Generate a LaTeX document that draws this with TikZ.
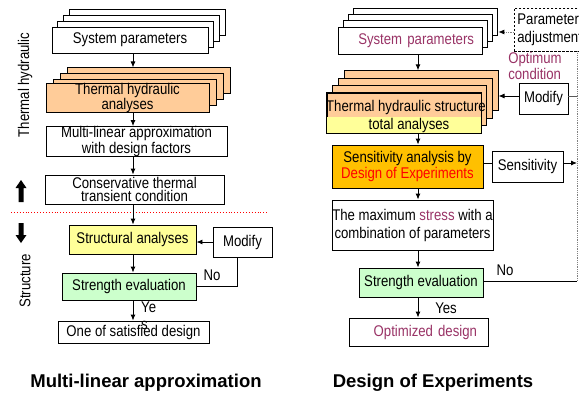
\documentclass[tikz,border=0pt]{standalone}
\usepackage{fontspec}
\setmainfont{Liberation Sans}[FakeStretch=0.85]
\newfontfamily\titlefont{Liberation Sans}
\usetikzlibrary{arrows.meta,calc}
\definecolor{thor}{HTML}{FFCC99}
\definecolor{ylw}{HTML}{FFFF99}
\definecolor{grn}{HTML}{CCFFCC}
\definecolor{gold}{HTML}{FFC000}
\definecolor{mag}{HTML}{993366}
\newcommand{\bodyf}{\fontsize{15.5}{13}\selectfont}
\begin{document}
\begin{tikzpicture}[x=1pt,y=-1pt,
  box/.style={draw, line width=0.9pt, inner sep=0pt, align=center, font=\bodyf, fill=white},
  arr/.style={-{Latex[length=6pt,width=5pt]}, line width=0.9pt},
  lbl/.style={inner sep=0pt, font=\bodyf},
  ttl/.style={inner sep=0pt, font=\titlefont\bfseries\fontsize{18.5}{20}\selectfont}]
\clip (0,0) rectangle (579,396);
\useasboundingbox (0,0) rectangle (579,396);
\fill[white] (0,0) rectangle (579,396);
% ---------------- left ----------------
\node[box, minimum width=156, minimum height=26] (lsp3) at (147.1,22) {};
\node[box, minimum width=156, minimum height=26] (lsp2) at (141.4,28) {};
\node[box, minimum width=156, minimum height=26] (lsp1) at (135.7,34) {};
\node[box, minimum width=156, minimum height=26] (lsp) at (130,40) {System parameters};
\node[box, fill=thor, minimum width=163, minimum height=26] (lth3) at (149.4,80.9) {};
\node[box, fill=thor, minimum width=163, minimum height=26] (lth2) at (142.1,86.6) {};
\node[box, fill=thor, minimum width=163, minimum height=26] (lth1) at (134.8,92.3) {};
\node[box, fill=thor, minimum width=163, minimum height=26, font=\fontsize{15.5}{11}\selectfont] (lth) at (127.5,98) {Thermal hydraulic\\analyses};
\node[box, minimum width=181, minimum height=29] (lml) at (136.5,141.5) {Multi-linear approximation\\with design factors};
\node[box, minimum width=179, minimum height=29] (lcons) at (134.5,189.5) {Conservative thermal\\transient condition};
\draw[red, dotted, line width=0.9pt] (11,212) -- (267,212);
\node[box, fill=ylw, minimum width=127, minimum height=29] (lstruct) at (132.5,239.5) {Structural analyses};
\node[box, minimum width=59, minimum height=30] (lmod) at (242.5,242) {Modify};
\node[box, fill=grn, minimum width=134, minimum height=27] (lstr) at (129,286.5) {Strength evaluation};
\node[box, minimum width=151, minimum height=22] (lone) at (133.5,332) {One of satisfied design};
\coordinate (lax) at (133,0);
\draw[arr] (lsp.south -| lax) -- (lth3.north -| lax);
\draw[arr] (lth.south -| lax) -- (lml.north -| lax);
\draw[arr] (lml.south -| lax) -- (lcons.north -| lax);
\draw[arr] (lcons.south -| lax) -- (lstruct.north -| lax);
\draw[arr] (lstruct.south -| lax) -- (lstr.north -| lax);
\draw[arr] (lstr.south -| lax) -- (lone.north -| lax);
\draw[arr] (lmod.west) -- (lmod.west -| lstruct.east);
\coordinate (lnx) at (237,0);
\draw[line width=0.9pt] (lmod.south -| lnx) |- (lstr.east);
\node[lbl] (lno) at (212,275) {No};
\node[lbl, align=left, anchor=north west, font=\fontsize{15.5}{17}\selectfont] (lyes) at (141,302) {Ye\\s};
\node[lbl, rotate=90] (lthl) at (25,85) {Thermal hydraulic};
\node[lbl, rotate=90] (lstl) at (25,281) {Structure};
\fill (21,180) -- (26.5,188) -- (23.5,188) -- (23.5,202) -- (18.5,202) -- (18.5,188) -- (15.5,188) -- cycle;
\fill (21,243) -- (26.5,235) -- (23.5,235) -- (23.5,223) -- (18.5,223) -- (18.5,235) -- (15.5,235) -- cycle;
\node[ttl] (t1) at (146,383) {Multi-linear approximation};
% ---------------- right ----------------
\node[box, minimum width=144, minimum height=27] (rsp3) at (425.9,21.6) {};
\node[box, minimum width=144, minimum height=27] (rsp2) at (420.6,27.9) {};
\node[box, minimum width=144, minimum height=27] (rsp1) at (415.3,34.2) {};
\node[box, minimum width=144, minimum height=27, text width=128, align=right, text=mag] (rsp) at (410,40.5) {System parameters};
\node[draw, dashed, dash pattern=on 2.5pt off 1.5pt, line width=0.8pt, anchor=west, minimum height=43, inner xsep=3pt, inner ysep=0pt, text width=66, align=left, font=\fontsize{15.5}{18}\selectfont] (rpa) at (514,29.5) {Parameter\\adjustment};
\coordinate (ry32) at (0,32);
\draw[gray, densely dotted, line width=0.8pt, -{Latex[black,length=6pt,width=5pt]}] (rpa.west |- ry32) -- (rsp3.east |- ry32);
\node[lbl, align=left, text=mag, font=\fontsize{15.5}{16}\selectfont] (ropc) at (535,66) {Optimum\\condition};
\node[box, fill=thor, minimum width=154, minimum height=40] (rth3) at (421.1,90.8) {};
\node[box, fill=thor, minimum width=154, minimum height=40] (rth2) at (415.4,98.2) {};
\node[box, fill=thor, minimum width=154, minimum height=40] (rth1) at (409.7,105.6) {};
\node[box, fill=thor, minimum width=154, minimum height=40] (rth) at (404,113) {};
\fill[ylw] (rth.south west) rectangle ($(rth.south east)+(0,-16)$);
\draw[line width=0.9pt] (rth.south west) rectangle (rth.north east);
\node[lbl, anchor=base] (rtht) at (406,111) {Thermal hydraulic structure};
\node[lbl, anchor=base] (rthb) at (409,129) {total analyses};
\node[box, minimum width=49, minimum height=31] (rmod) at (543.5,98.5) {Modify};
\coordinate (ry96) at (0,96);
\coordinate (rdx) at (577,0);
\coordinate (ry163) at (0,163);
\coordinate (ry281) at (0,281);
\draw[arr] (rmod.west |- ry96) -- (rth3.east |- ry96);
\draw[gray!70!black, line width=0.8pt] (rmod.east |- ry96) -- (rdx |- ry96);
\draw[gray, densely dotted, line width=0.8pt] (rpa.south -| rdx) -- (rdx |- ry281);
\node[box, fill=gold, minimum width=151, minimum height=43, font=\fontsize{15.5}{16}\selectfont] (rsa) at (407.5,166.5) {Sensitivity analysis by\\\textcolor{red}{Design of Experiments}};
\node[box, minimum width=71, minimum height=31] (rsens) at (527.5,166.5) {Sensitivity};
\draw[line width=0.9pt] (rsa.east |- ry163) -- (rsens.west |- ry163);
\draw[arr] (rsens.east |- ry163) -- (rdx |- ry163);
\node[box, minimum width=161, minimum height=50, font=\fontsize{15.5}{18}\selectfont] (rmax) at (412.5,225) {The maximum \textcolor{mag}{stress} with a\\combination of parameters};
\node[box, fill=grn, minimum width=124, minimum height=29] (rstr) at (421,282.5) {Strength evaluation};
\draw[line width=0.9pt] (rstr.east |- ry281) -- (rdx |- ry281);
\node[lbl] (rno) at (505,270) {No};
\node[box, minimum width=139, minimum height=28, text width=117, align=right, text=mag] (ropt) at (418.5,332) {Optimized design};
\node[lbl] (ryes) at (446,308) {Yes};
\coordinate (rax) at (418,0);
\draw[arr] (rsp.south -| rax) -- (rth3.north -| rax);
\draw[arr] (rth.south -| rax) -- (rsa.north -| rax);
\draw[arr] (rsa.south -| rax) -- (rmax.north -| rax);
\draw[arr] (rmax.south -| rax) -- (rstr.north -| rax);
\draw[arr] (rstr.south -| rax) -- (ropt.north -| rax);
\node[ttl] (t2) at (433,383) {Design of Experiments};
\end{tikzpicture}
\end{document}
